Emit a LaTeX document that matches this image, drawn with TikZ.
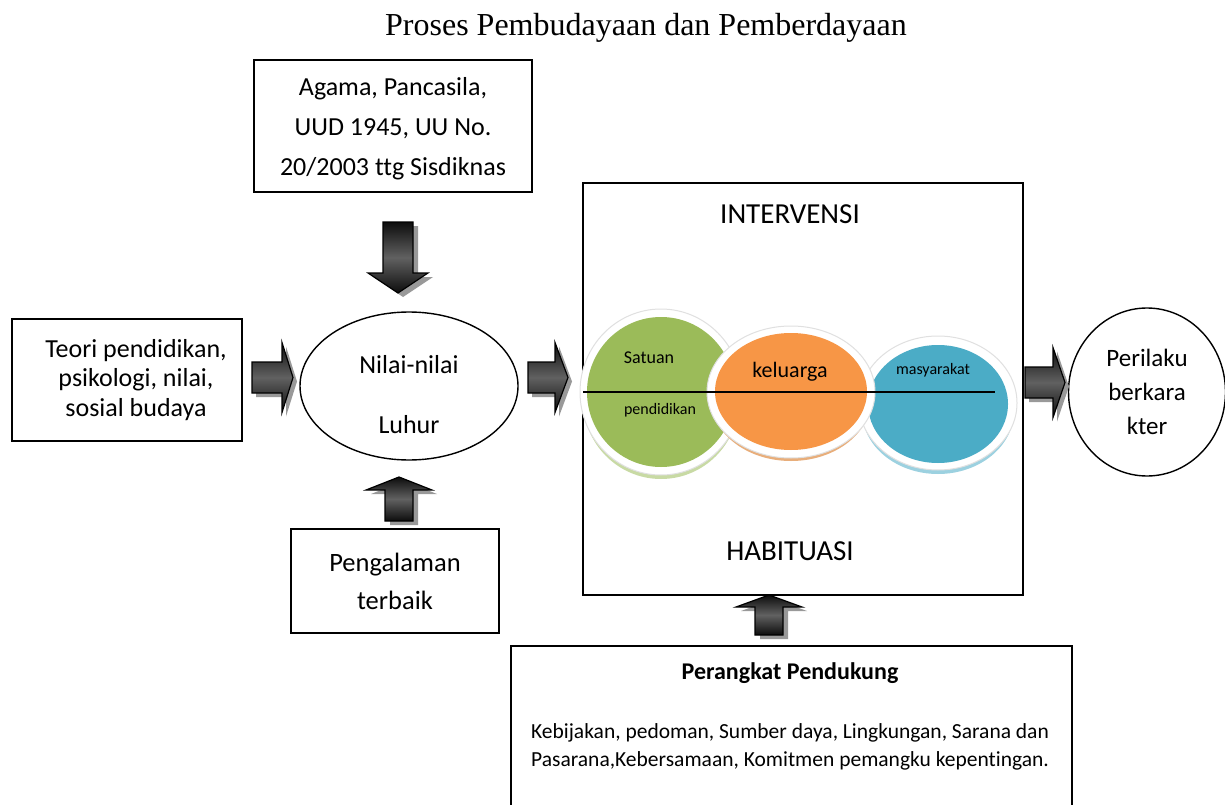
\documentclass[tikz,border=0pt]{standalone}
\usepackage{fontspec}
\setmainfont{Carlito}[Ligatures={NoCommon}]
\newfontfamily\titlefont{Liberation Serif}
\usetikzlibrary{shapes.geometric}
\definecolor{cgreen}{HTML}{9BBB59}
\definecolor{corange}{HTML}{F79646}
\definecolor{cblue}{HTML}{4BACC6}
\tikzset{
  box/.style={draw=black, line width=1.4pt, fill=white, inner sep=0pt},
  oval/.style={draw=black, line width=1.4pt, ellipse, inner sep=0pt, fill=white},
  arrowshade/.style={top color=black!95, bottom color=black!95, middle color=black!62},
  arrowshadow/.style={fill=black!40},
  body/.style={font=\fontsize{26}{40}\selectfont, align=center},
}
% horizontal block arrow: x0, xhead, xtip, yc, shaft half, head half
\newcommand\hblockarrow[6]{%
  \fill[arrowshadow] ({#1+4},{#4-#5+4})--({#2+4},{#4-#5+4})--({#2+4},{#4-#6+4})--({#3+4},{#4+4})--({#2+4},{#4+#6+4})--({#2+4},{#4+#5+4})--({#1+4},{#4+#5+4})--cycle;
  \shade[arrowshade] (#1,{#4-#5})--(#2,{#4-#5})--(#2,{#4-#6})--(#3,#4)--(#2,{#4+#6})--(#2,{#4+#5})--(#1,{#4+#5})--cycle;
  \draw[line width=1.2pt, line join=miter] (#1,{#4-#5})--(#2,{#4-#5})--(#2,{#4-#6})--(#3,#4)--(#2,{#4+#6})--(#2,{#4+#5})--(#1,{#4+#5})--cycle;}
% vertical block arrow: xc, y0, yhead, ytip, shaft half, head half
\newcommand\vblockarrow[6]{%
  \fill[arrowshadow] ({#1-#5+5},{#2+4})--({#1-#5+5},{#3+4})--({#1-#6+5},{#3+4})--({#1+5},{#4+4})--({#1+#6+5},{#3+4})--({#1+#5+5},{#3+4})--({#1+#5+5},{#2+4})--cycle;
  \shade[arrowshade] ({#1-#5},#2)--({#1-#5},#3)--({#1-#6},#3)--(#1,#4)--({#1+#6},#3)--({#1+#5},#3)--({#1+#5},#2)--cycle;
  \draw[line width=1.2pt, line join=miter] ({#1-#5},#2)--({#1-#5},#3)--({#1-#6},#3)--(#1,#4)--({#1+#6},#3)--({#1+#5},#3)--({#1+#5},#2)--cycle;}
\begin{document}
\begin{tikzpicture}[x=1pt,y=-1pt]
\useasboundingbox (0,0) rectangle (1225,805);
\fill[white] (0,0) rectangle (1225,805);

% title
\node (title) at (646,28) {\titlefont\fontsize{32}{38}\selectfont Proses Pembudayaan dan Pemberdayaan};

% boxes
\node[box, minimum width=278pt, minimum height=132pt] (agama) at (393,126) {};
\node[body] (agamatxt) at (393,129) {Agama, Pancasila,\\UUD 1945, UU No.\\20/2003 ttg Sisdiknas};
\node[box, minimum width=230pt, minimum height=122pt] (teori) at (127,380) {};
\node[body, font=\fontsize{26}{29.5}\selectfont] (teoritxt) at (136,380) {Teori pendidikan,\\psikologi, nilai,\\sosial budaya};
\node[box, minimum width=208pt, minimum height=104pt, body, font=\fontsize{26.5}{38}\selectfont] (pengalaman) at (395,581) {Pengalaman\\terbaik};
\node[oval, minimum width=218pt, minimum height=148pt] (nilai) at (409,386) {};
\node[body, font=\fontsize{26}{60}\selectfont] (nilaitxt) at (409,395) {Nilai-nilai\\Luhur};
\node[box, minimum width=440pt, minimum height=412pt] (interv) at (803,389) {};
\node[body, font=\fontsize{29}{34}\selectfont] (intervtxt) at (790,214) {INTERVENSI};
\node[body, font=\fontsize{29}{34}\selectfont] (habtxt) at (790,551) {HABITUASI};
\node[oval, minimum width=157pt, minimum height=168pt, body, font=\fontsize{25}{34}\selectfont] (perilaku) at (1147,392) {Perilaku\\berkara\\kter};
\node[box, minimum width=561pt, minimum height=180pt] (perangkat) at (791.5,736) {};
\node[font=\bfseries\fontsize{24}{28}\selectfont] (pertitle) at (790,673) {Perangkat Pendukung};
\node[font=\fontsize{21.5}{28}\selectfont, align=center] (pertxt) at (790,747) {Kebijakan, pedoman, Sumber daya, Lingkungan, Sarana dan\\Pasarana,Kebersamaan, Komitmen pemangku kepentingan.};

% circles
% green
\fill[cgreen!55] (661,400) ellipse [x radius=78, y radius=79];
\fill[white, draw=black!12, line width=1pt] (661,392) ellipse [x radius=81, y radius=83];
\fill[cgreen] (661,392) ellipse [x radius=74, y radius=75];
% blue
\fill[cblue!55] (938,411) ellipse [x radius=76, y radius=63];
\fill[white, draw=black!12, line width=1pt] (938,403) ellipse [x radius=79, y radius=67];
\fill[cblue] (938,404) ellipse [x radius=70, y radius=59];
% orange
\fill[corange!55!brown!70] (791,399) ellipse [x radius=80, y radius=62];
\fill[white, draw=black!12, line width=1pt] (791,392) ellipse [x radius=84, y radius=66];
\fill[corange] (791,391.5) ellipse [x radius=76, y radius=58.5];
\node[font=\fontsize{18}{20}\selectfont] (satuan) at (649,358) {Satuan};
\node[font=\fontsize{16}{20}\selectfont] (pendidikan) at (660,410) {pendidikan};
\node[font=\fontsize{22}{24}\selectfont] (keluarga) at (790,372) {keluarga};
\node[font=\fontsize{16}{20}\selectfont] (masyarakat) at (933,370) {masyarakat};
\coordinate (lineL) at (583,392);
\coordinate (lineR) at (995,392);
\draw[line width=1.4pt] (lineL) -- (lineR);

% block arrows
\vblockarrow{398}{222}{273}{293}{15}{30}
\hblockarrow{252}{282}{293}{377.5}{15.5}{35}
\hblockarrow{528}{555}{568}{377.5}{15.5}{35}
\vblockarrow{399}{521}{490}{477}{14}{33}
\hblockarrow{1025}{1053}{1065}{382.5}{15.5}{35}
\vblockarrow{769}{635}{607}{595}{14}{33}
\end{tikzpicture}
\end{document}
